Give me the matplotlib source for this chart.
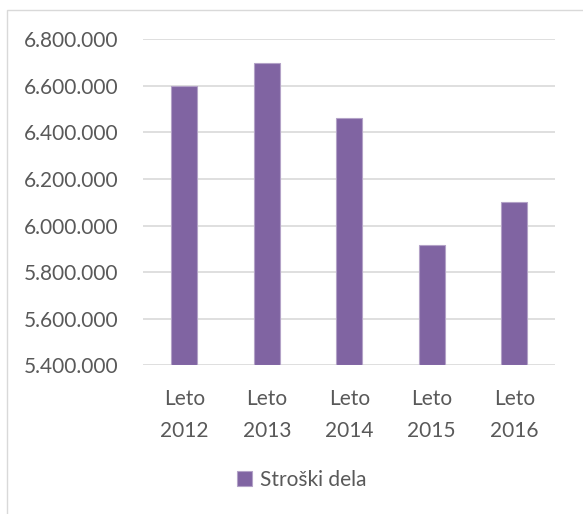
import matplotlib
matplotlib.use("Agg")
import matplotlib.pyplot as plt
from matplotlib.ticker import FuncFormatter
from matplotlib.patches import Rectangle

categories = ["Leto\n2012", "Leto\n2013", "Leto\n2014", "Leto\n2015", "Leto\n2016"]
values = [6600000, 6700000, 6463000, 5915000, 6100000]
series_name = "Stroški dela"
y_ticks = [5400000, 5600000, 5800000, 6000000, 6200000, 6400000, 6600000, 6800000]

plt.rcParams['font.family'] = ['Lato', 'DejaVu Sans']
text_color = '#595959'
bar_color = '#8064A2'

fig = plt.figure(figsize=(5.83, 5.14), dpi=100)
ax = fig.add_axes([0.2453, 0.2893, 0.7075, 0.6342])

x = list(range(len(categories)))
ax.bar(x, [v - y_ticks[0] for v in values], bottom=y_ticks[0], width=0.315,
       color=bar_color, edgecolor='#B3A2C7', linewidth=0.8, zorder=3,
       label=series_name)

ax.set_xlim(-0.5, len(categories) - 0.5)
ax.set_ylim(y_ticks[0], y_ticks[-1])
ax.set_yticks(y_ticks)
ax.yaxis.set_major_formatter(FuncFormatter(lambda v, p: f"{int(v):,}".replace(",", ".")))
ax.set_xticks(x)
ax.set_xticklabels(categories, linespacing=1.75)

ax.grid(axis='y', color='#D9D9D9', linewidth=1.2, zorder=0)
for s in ax.spines.values():
    s.set_visible(False)
ax.tick_params(axis='both', length=0, labelsize=15, colors=text_color)
ax.tick_params(axis='y', pad=18)
ax.tick_params(axis='x', pad=17)

# outer chart border
fig.patches.append(Rectangle((7 / 583, -0.01), 1.0, 1 - 10 / 514 + 0.01,
                             transform=fig.transFigure, fill=False,
                             edgecolor='#D9D9D9', linewidth=1.0))

leg = fig.legend(loc='center', bbox_to_anchor=(0.518, 1 - 480 / 514), frameon=False,
                 fontsize=15, handlelength=0.7, handleheight=0.7, handletextpad=0.4,
                 labelcolor=text_color)

fig.savefig("out.png", dpi=100)
